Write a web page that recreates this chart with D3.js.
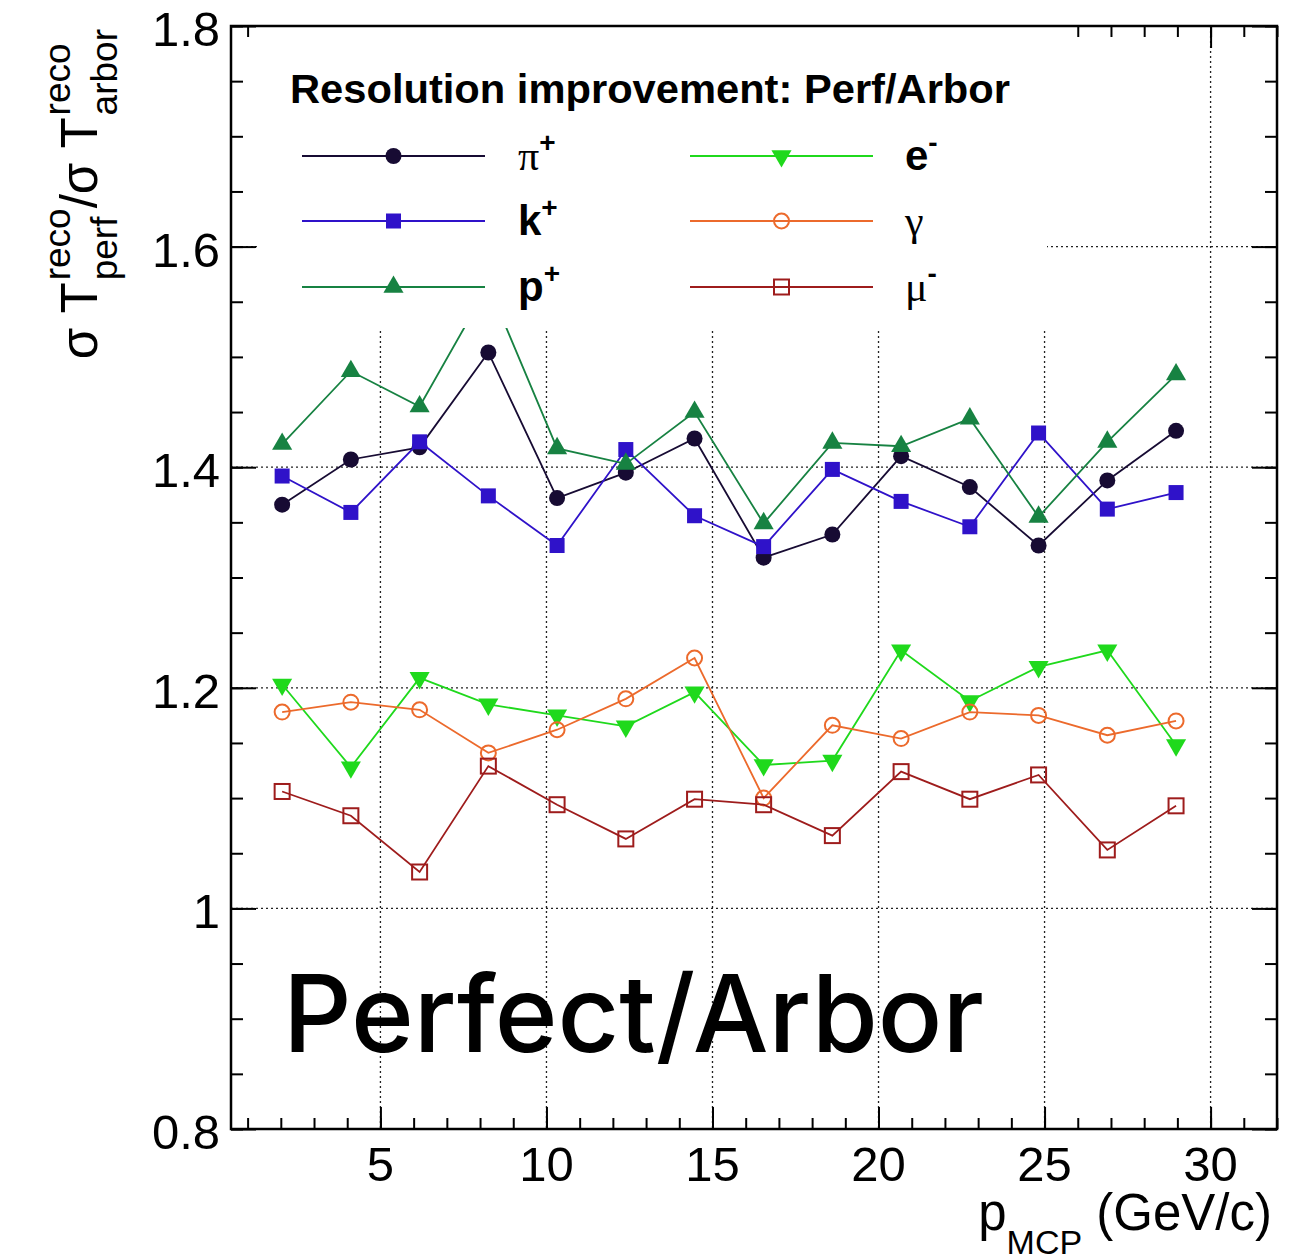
<!DOCTYPE html>
<html>
<head>
<meta charset="utf-8">
<script src="https://cdn.jsdelivr.net/npm/d3@7"></script>
<style>
  body { margin: 0; background: #fff; }
  text { font-family: "Liberation Sans", Arial, Helvetica, sans-serif; fill: #000; }
</style>
</head>
<body>
<script>
// bin centres in p_MCP (GeV/c)
const xCenters = [2.04, 4.11, 6.18, 8.25, 10.32, 12.39, 14.46, 16.54, 18.61, 20.68, 22.75, 24.82, 26.89, 28.96];

// resolution ratio per particle
const piPlus = [1.366, 1.407, 1.418, 1.504, 1.372, 1.395, 1.426, 1.318, 1.339, 1.410, 1.382, 1.329, 1.388, 1.433];
const kPlus  = [1.392, 1.359, 1.423, 1.374, 1.329, 1.416, 1.356, 1.328, 1.398, 1.369, 1.346, 1.431, 1.362, 1.377];
const pPlus  = [1.421, 1.487, 1.455, 1.565, 1.417, 1.403, 1.450, 1.349, 1.422, 1.419, 1.444, 1.355, 1.423, 1.484];
const eMinus = [1.203, 1.128, 1.209, 1.185, 1.175, 1.165, 1.196, 1.130, 1.134, 1.234, 1.188, 1.219, 1.234, 1.148];
const gamma  = [1.178, 1.187, 1.180, 1.141, 1.162, 1.190, 1.227, 1.100, 1.166, 1.154, 1.178, 1.175, 1.157, 1.170];
const muMinus= [1.106, 1.084, 1.033, 1.129, 1.094, 1.063, 1.099, 1.094, 1.066, 1.124, 1.099, 1.121, 1.053, 1.093];

// axis ticks
const xMajor = [5, 10, 15, 20, 25, 30];
const xMajorLabels = ["5", "10", "15", "20", "25", "30"];
const yMajor = [0.8, 1.0, 1.2, 1.4, 1.6, 1.8];
const yMajorLabels = ["0.8", "1", "1.2", "1.4", "1.6", "1.8"];
const xMinor = d3.range(1, 33);
const yMinor = d3.range(16, 37).map(d => d / 20);

const series = [
  {name: "π", sup: "+", vals: piPlus,  color: "#170b33", marker: "circle",  greek: true},
  {name: "k", sup: "+", vals: kPlus,   color: "#2f12c9", marker: "square"},
  {name: "p", sup: "+", vals: pPlus,   color: "#178242", marker: "triUp"},
  {name: "e", sup: "-", vals: eMinus,  color: "#1fd91c", marker: "triDown"},
  {name: "γ", sup: "",  vals: gamma,   color: "#ec6a2c", marker: "openCircle", greek: true},
  {name: "μ", sup: "-", vals: muMinus, color: "#9e1c1c", marker: "openSquare", greek: true}
];

const W = 1301, H = 1256;
const L = 231, R = 1277, T = 26, B = 1129;

const svg = d3.select("body").append("svg")
  .attr("width", W).attr("height", H);

svg.append("rect").attr("width", W).attr("height", H).attr("fill", "#fff");

const x = d3.scaleLinear().domain([0.5, 32]).range([L, R]);
const y = d3.scaleLinear().domain([0.8, 1.8]).range([B, T]);

// grid (dotted)
const grid = svg.append("g").attr("stroke", "#222").attr("stroke-width", 1.3)
  .attr("stroke-dasharray", "2,3");
grid.selectAll(".gx").data(xMajor).join("line")
  .attr("x1", d => x(d)).attr("x2", d => x(d)).attr("y1", T).attr("y2", B);
grid.selectAll(".gy").data(yMajor.slice(1, -1)).join("line")
  .attr("x1", L).attr("x2", R).attr("y1", d => y(d)).attr("y2", d => y(d));

svg.append("clipPath").attr("id", "frame")
  .append("rect").attr("x", L).attr("y", T).attr("width", R - L).attr("height", B - T);

function drawMarker(g, type, color, cx, cy) {
  const s = 8;
  if (type === "circle") {
    g.append("circle").attr("cx", cx).attr("cy", cy).attr("r", s).attr("fill", color);
  } else if (type === "openCircle") {
    g.append("circle").attr("cx", cx).attr("cy", cy).attr("r", s - 0.5).attr("fill", "none")
      .attr("stroke", color).attr("stroke-width", 2);
  } else if (type === "square") {
    g.append("rect").attr("x", cx - 7.5).attr("y", cy - 7.5).attr("width", 15).attr("height", 15)
      .attr("fill", color);
  } else if (type === "openSquare") {
    g.append("rect").attr("x", cx - 7.5).attr("y", cy - 7.5).attr("width", 15).attr("height", 15)
      .attr("fill", "none").attr("stroke", color).attr("stroke-width", 2);
  } else {
    const tri = d3.symbol().type(d3.symbolTriangle).size(175)();
    g.append("path").attr("d", tri)
      .attr("transform", `translate(${cx},${cy})` + (type === "triDown" ? " rotate(180)" : ""))
      .attr("fill", color);
  }
}

const plot = svg.append("g").attr("clip-path", "url(#frame)");
const line = d3.line().x((d, i) => x(xCenters[i])).y(d => y(d));
series.forEach(s => {
  plot.append("path").attr("d", line(s.vals)).attr("fill", "none")
    .attr("stroke", s.color).attr("stroke-width", 1.8);
  s.vals.forEach((v, i) => drawMarker(plot, s.marker, s.color, x(xCenters[i]), y(v)));
});

// legend box (covers grid and data)
svg.append("rect").attr("x", 257).attr("y", T + 1).attr("width", 1047 - 257).attr("height", 328 - T - 1)
  .attr("fill", "#fff");

svg.append("text").attr("x", 290).attr("y", 103)
  .attr("font-size", 40).attr("font-weight", "bold")
  .attr("textLength", 720).attr("lengthAdjust", "spacingAndGlyphs")
  .text("Resolution improvement: Perf/Arbor");

const legRows = [156, 221, 287];
const legCols = [{x1: 302, x2: 485, tx: 518}, {x1: 690, x2: 873, tx: 905}];
series.forEach((s, i) => {
  const c = legCols[Math.floor(i / 3)], ry = legRows[i % 3];
  svg.append("line").attr("x1", c.x1).attr("x2", c.x2).attr("y1", ry).attr("y2", ry)
    .attr("stroke", s.color).attr("stroke-width", 2);
  drawMarker(svg, s.marker, s.color, (c.x1 + c.x2) / 2, ry);
  const t = svg.append("text").attr("x", c.tx).attr("y", ry + 14).attr("font-size", 42);
  t.append("tspan")
    .style("font-family", s.greek ? "'Liberation Serif', serif" : null)
    .attr("font-weight", s.greek ? "normal" : "bold")
    .text(s.name);
  if (s.sup) t.append("tspan").attr("font-size", 28).attr("font-weight", "bold")
    .attr("dy", -18).text(s.sup);
});

// axes: ticks pointing inside
const axisG = svg.append("g");
function ticks(axisFn, scale, vals, size, tr) {
  axisG.append("g").attr("transform", tr)
    .call(axisFn(scale).tickValues(vals).tickSize(-size).tickFormat(""))
    .call(g => g.select(".domain").remove())
    .call(g => g.selectAll("line").attr("stroke", "#000").attr("stroke-width", 2));
}
ticks(d3.axisBottom, x, xMinor, 11, `translate(0,${B})`);
ticks(d3.axisBottom, x, xMajor, 22, `translate(0,${B})`);
ticks(d3.axisTop, x, xMinor, 11, `translate(0,${T})`);
ticks(d3.axisTop, x, xMajor, 22, `translate(0,${T})`);
ticks(d3.axisLeft, y, yMinor, 12, `translate(${L},0)`);
ticks(d3.axisLeft, y, yMajor, 25, `translate(${L},0)`);
ticks(d3.axisRight, y, yMinor, 12, `translate(${R},0)`);
ticks(d3.axisRight, y, yMajor, 25, `translate(${R},0)`);

// legend box hides the top ticks it overlaps
svg.append("rect").attr("x", 257).attr("y", T + 1).attr("width", 1047 - 257).attr("height", 30)
  .attr("fill", "#fff");

svg.append("rect").attr("x", L).attr("y", T).attr("width", R - L).attr("height", B - T)
  .attr("fill", "none").attr("stroke", "#000").attr("stroke-width", 2.5);

// tick labels
svg.append("g").selectAll("text").data(yMajor).join("text")
  .attr("x", 220).attr("y", d => y(d) + 20)
  .attr("text-anchor", "end").attr("font-size", 49)
  .text((d, i) => yMajorLabels[i]);
svg.append("g").selectAll("text").data(xMajor).join("text")
  .attr("x", d => x(d)).attr("y", 1181)
  .attr("text-anchor", "middle").attr("font-size", 49)
  .text((d, i) => xMajorLabels[i]);

// x title
const xt = svg.append("text").attr("x", 1272).attr("y", 1230)
  .attr("text-anchor", "end").attr("font-size", 51);
xt.append("tspan").text("p");
xt.append("tspan").attr("font-size", 34).attr("dy", 24).text("MCP");
xt.append("tspan").attr("dy", -24).text(" (GeV/c)");

// y title, rotated, stacked sup/sub scripts
const yt = svg.append("g").attr("transform", "translate(97,29) rotate(-90)");
const inner = yt.append("g");
const yParts = [
  {text: "σ T"}, {sup: "reco", sub: "perf"}, {text: "/σ T"}, {sup: "reco", sub: "arbor"}
];
let cursor = 0;
yParts.forEach(p => {
  if (p.text) {
    const t = inner.append("text").attr("x", cursor).attr("y", 0).attr("font-size", 51).text(p.text);
    cursor += t.node().getComputedTextLength();
  } else {
    const a = inner.append("text").attr("x", cursor + 2).attr("y", -27).attr("font-size", 37).text(p.sup);
    const b = inner.append("text").attr("x", cursor + 2).attr("y", 20).attr("font-size", 37).text(p.sub);
    cursor += 2 + Math.max(a.node().getComputedTextLength(), b.node().getComputedTextLength());
  }
});
inner.attr("transform", `translate(${-cursor},0)`);

// annotation
svg.append("text").attr("x", 283).attr("y", 1052)
  .style("font-family", "Inter, 'Liberation Sans', sans-serif")
  .attr("font-weight", 500).attr("font-size", 107)
  .text("Perfect/Arbor");
</script>
</body>
</html>
